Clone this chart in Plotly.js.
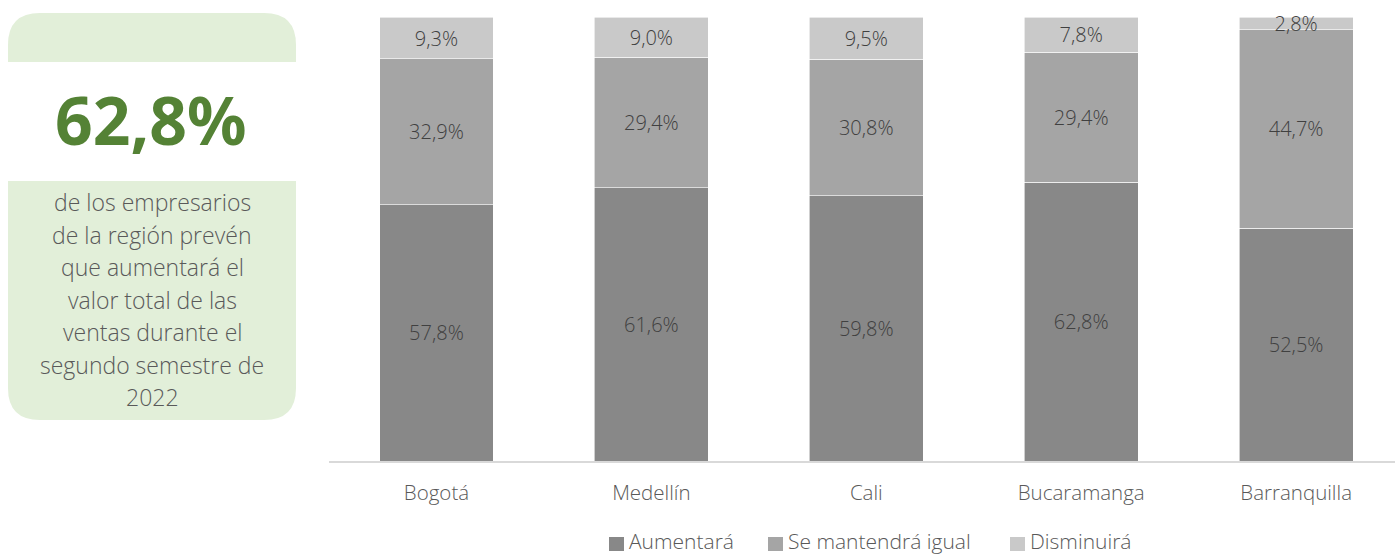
<!DOCTYPE html>
<html><head><meta charset="utf-8">
<script src="https://cdn.plot.ly/plotly-3.0.1.min.js"></script>
<style>html,body{margin:0;padding:0;background:#fff}#chart{width:1395px;height:556px}</style>
</head><body><div id="chart"></div>
<script>
const categories = ["Bogotá", "Medellín", "Cali", "Bucaramanga", "Barranquilla"];
const aumentara = [57.8, 61.6, 59.8, 62.8, 52.5];
const mantendra = [32.9, 29.4, 30.8, 29.4, 44.7];
const disminuira = [9.3, 9.0, 9.5, 7.8, 2.8];
const seriesNames = ["Aumentará", "Se mantendrá igual", "Disminuirá"];
const headline = "62,8%";
const panelLines = ["de los empresarios", "de la región prevén", "que aumentará el", "valor total de las", "ventas durante el", "segundo semestre de", "2022"];

const W = 1395, H = 556;
const L = 329, R = 0, T = 17, B = 95;
const pw = W - L - R, ph = H - T - B;
const px = x => (x - L) / pw;
const py = y => (H - B - y) / ph;

function fmt(v){ return v.toFixed(1).replace('.', ',') + '%'; }

const font = "'Open Sans', 'DejaVu Sans', sans-serif";
const colors = ['#888888', '#a5a5a5', '#c9c9c9'];
function mk(name, vals, color){
  return {
    type: 'bar', name: name, x: categories, y: vals,
    marker: {color: color, line: {color: '#ffffff', width: 0.6}},
    width: 0.53,
    text: vals.map(fmt), textposition: 'inside', insidetextanchor: 'middle',
    textfont: {family: font, size: 20, color: '#404040', weight: 300},
    hoverinfo: 'skip', cliponaxis: false, constraintext: 'none', showlegend: false
  };
}
const data = [
  mk(seriesNames[0], aumentara, colors[0]),
  mk(seriesNames[1], mantendra, colors[1]),
  mk(seriesNames[2], disminuira, colors[2])
];

// rounded panel path in paper coordinates
const x0 = 8, x1 = 296, y0 = 13, y1 = 420, r = 32;
function P(x, y){ return px(x).toFixed(5) + ',' + py(y).toFixed(5); }
const panelPath = 'M' + P(x0 + r, y0) + ' L' + P(x1 - r, y0) + ' Q' + P(x1, y0) + ' ' + P(x1, y0 + r) +
  ' L' + P(x1, y1 - r) + ' Q' + P(x1, y1) + ' ' + P(x1 - r, y1) +
  ' L' + P(x0 + r, y1) + ' Q' + P(x0, y1) + ' ' + P(x0, y1 - r) +
  ' L' + P(x0, y0 + r) + ' Q' + P(x0, y0) + ' ' + P(x0 + r, y0) + ' Z';

const shapes = [
  {type: 'path', xref: 'paper', yref: 'paper', path: panelPath, fillcolor: '#e2efd9', line: {width: 0}, layer: 'below'},
  {type: 'rect', xref: 'paper', yref: 'paper', x0: px(x0), x1: px(x1), y0: py(62), y1: py(181), fillcolor: '#ffffff', line: {width: 0}, layer: 'below'}
];

const annotations = [
  {xref: 'paper', yref: 'paper', x: px(151), y: py(119), text: '<b>' + headline + '</b>', showarrow: false,
   font: {family: "'Noto Sans', 'Open Sans', sans-serif", size: 66, color: '#548235'}, xanchor: 'center', yanchor: 'middle'}
];
panelLines.forEach((t, i) => {
  annotations.push({xref: 'paper', yref: 'paper', x: px(152), y: py(202 + i * 32.5), text: t, showarrow: false,
    font: {family: font, size: 23, color: '#595959', weight: 300}, xanchor: 'center', yanchor: 'middle'});
});

// custom legend (squares + labels)
const legendX = [609, 768, 1010];
seriesNames.forEach((n, i) => {
  shapes.push({type: 'rect', xref: 'paper', yref: 'paper', x0: px(legendX[i]), x1: px(legendX[i] + 15),
    y0: py(551), y1: py(537), fillcolor: colors[i], line: {width: 0}});
  annotations.push({xref: 'paper', yref: 'paper', x: px(legendX[i] + 19), y: py(556), text: n, showarrow: false,
    font: {family: font, size: 21, color: '#595959', weight: 300}, xanchor: 'left', yanchor: 'bottom', borderpad: 0});
});

const layout = {
  width: W, height: H,
  margin: {l: L, r: R, t: T, b: B, pad: 0, autoexpand: false},
  paper_bgcolor: '#ffffff', plot_bgcolor: '#ffffff',
  barmode: 'stack', bargap: 0.47,
  showlegend: false,
  xaxis: {type: 'category', range: [-0.5, 4.46], showgrid: false, zeroline: false,
    showline: true, linecolor: '#d9d9d9', linewidth: 1.5, ticks: '', ticklen: 0, ticklabelstandoff: 13,
    tickfont: {family: font, size: 20.5, color: '#595959', weight: 300}, fixedrange: true, automargin: false},
  yaxis: {range: [0, 100.1], showgrid: false, zeroline: false, showticklabels: false, showline: false, fixedrange: true, automargin: false},
  shapes: shapes, annotations: annotations,
  uniformtext: {mode: false}
};
Plotly.newPlot('chart', data, layout, {displayModeBar: false, staticPlot: true});
</script></body></html>
